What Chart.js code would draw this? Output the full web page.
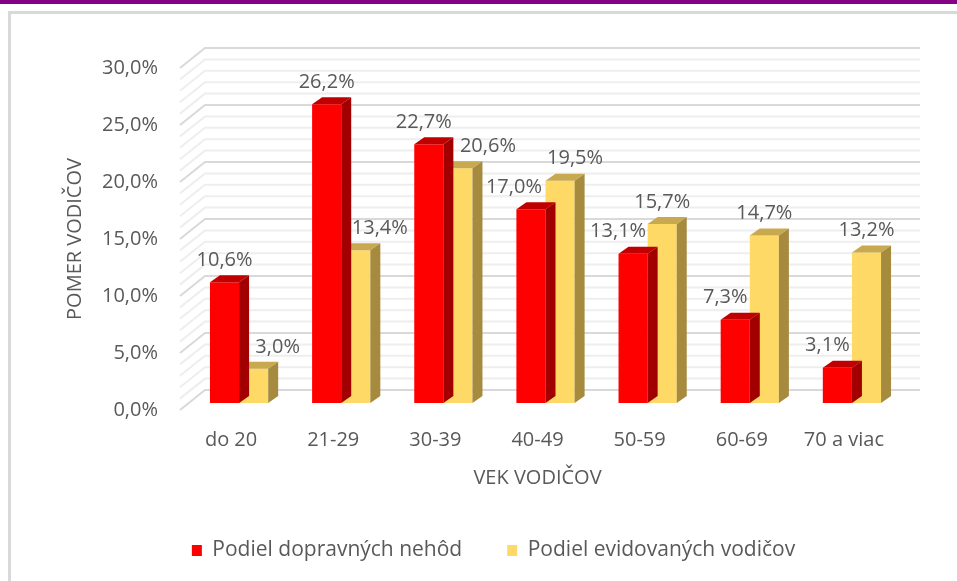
<!DOCTYPE html>
<html>
<head>
<meta charset="utf-8">
<script src="https://cdn.jsdelivr.net/npm/chart.js@4.4.1/dist/chart.umd.min.js"></script>
<style>
  body { margin: 0; background: #fff; overflow: hidden; }
  #pruh { position: absolute; left: 0; top: 0; width: 957px; height: 4px; background: #840084; }
  #ram { position: absolute; left: 8px; top: 11px; width: 1000px; height: 700px; border: 3px solid #d9d9d9; }
  #graf { position: absolute; left: 0; top: 0; }
</style>
</head>
<body>
<div id="pruh"></div>
<div id="ram"></div>
<canvas id="graf" width="957" height="581"></canvas>
<script>
// vekové skupiny vodičov
const kategorie = ['do 20', '21-29', '30-39', '40-49', '50-59', '60-69', '70 a viac']
// podiel v percentách
const nehody = [10.6, 26.2, 22.7, 17.0, 13.1, 7.3, 3.1]
const vodici = [3.0, 13.4, 20.6, 19.5, 15.7, 14.7, 13.2]
const nazvy = ['Podiel dopravných nehôd', 'Podiel evidovaných vodičov']
const yMax = 30
const yKrok = 5

// posun popiskov nad stĺpcami (aby sa neprekrývali)
const posunPopisu = [
    [0, 0, -5, -17, -15, -10, -10],
    [24, 24, 30, 15, 0, 0, 0]
]

const sivá = '#595959'
const pismo = { family: '"Open Sans", sans-serif', size: 20 }
const pismoLegenda = { family: '"Open Sans", sans-serif', size: 21 }
const farby = ['#ff0000', '#ffd966']
const farbyVrch = ['#c00000', '#c9a94f']
const farbyBok = ['#a20000', '#a68b3f']

// 3D: zadná stena, rovina stĺpcov a hĺbka stĺpca
const stena = { x: 25, y: 20 }
const rovina = { x: 8, y: 7 }
const hlbka = { x: 10, y: 7 }

const formatPct = (v) => v.toFixed(1).replace('.', ',') + '%'

const priestor = {
    id: 'priestor',
    beforeDatasetsDraw(chart) {
        const { ctx, chartArea: a, scales: { y } } = chart
        ctx.save()
        ctx.lineWidth = 2
        for (let v = 0; v <= yMax; v++) {
            const py = y.getPixelForValue(v)
            ctx.strokeStyle = v % yKrok === 0 ? '#d9d9d9' : '#eeeeee'
            ctx.beginPath()
            ctx.moveTo(a.left, py)
            ctx.lineTo(a.left + stena.x, py - stena.y)
            ctx.lineTo(a.right + stena.x, py - stena.y)
            ctx.stroke()
        }
        ctx.restore()
        // stĺpce stoja v strede hĺbky
        ctx.save()
        ctx.translate(rovina.x, -rovina.y)
    },
    afterDatasetDraw(chart, args) {
        const ctx = chart.ctx
        const i = args.index
        args.meta.data.forEach(el => {
            const l = el.x - el.width / 2
            const r = el.x + el.width / 2
            // vrch
            ctx.fillStyle = farbyVrch[i]
            ctx.beginPath()
            ctx.moveTo(l, el.y)
            ctx.lineTo(r, el.y)
            ctx.lineTo(r + hlbka.x, el.y - hlbka.y)
            ctx.lineTo(l + hlbka.x, el.y - hlbka.y)
            ctx.closePath()
            ctx.fill()
            // bok
            ctx.fillStyle = farbyBok[i]
            ctx.beginPath()
            ctx.moveTo(r, el.y)
            ctx.lineTo(r + hlbka.x, el.y - hlbka.y)
            ctx.lineTo(r + hlbka.x, el.base - hlbka.y)
            ctx.lineTo(r, el.base)
            ctx.closePath()
            ctx.fill()
        })
    },
    afterDatasetsDraw(chart) {
        const ctx = chart.ctx
        ctx.restore()
        ctx.save()
        ctx.font = pismo.size + 'px ' + pismo.family
        ctx.fillStyle = sivá
        ctx.textAlign = 'center'
        ctx.textBaseline = 'middle'
        chart.data.datasets.forEach((ds, i) => {
            chart.getDatasetMeta(i).data.forEach((el, j) => {
                ctx.fillText(formatPct(ds.data[j]), el.x + rovina.x + posunPopisu[i][j], el.y - rovina.y - 22)
            })
        })
        ctx.restore()
    }
}

let ctx = document.getElementById('graf')
let chart = new Chart(ctx, {
    type: 'bar',
    data: {
        labels: kategorie,
        datasets: [{
            label: nazvy[0],
            data: nehody,
            backgroundColor: farby[0],
            borderWidth: 0
        }, {
            label: nazvy[1],
            data: vodici,
            backgroundColor: farby[1],
            borderWidth: 0
        }]
    },
    options: {
        responsive: false,
        animation: false,
        devicePixelRatio: 1,
        datasets: { bar: { categoryPercentage: 0.57, barPercentage: 1, clip: false } },
        layout: { padding: { top: 68, left: 30, right: 0, bottom: 10 } },
        plugins: {
            legend: {
                position: 'bottom',
                labels: { boxWidth: 10, boxHeight: 11, padding: 45, color: sivá, font: pismoLegenda }
            },
            tooltip: { enabled: false }
        },
        scales: {
            x: {
                grid: { display: false, drawTicks: false },
                border: { display: false },
                ticks: { color: sivá, font: pismo, padding: 18, maxRotation: 0, autoSkip: false },
                title: { display: true, text: 'VEK VODIČOV', color: sivá, font: pismo, padding: { top: 0, bottom: 5 } },
                afterFit(s) { s.height = 85 }
            },
            y: {
                min: 0,
                max: yMax,
                grid: { display: false, drawTicks: false },
                border: { display: false },
                ticks: { stepSize: yKrok, color: sivá, font: pismo, padding: 22, callback: (v) => formatPct(v) },
                title: { display: true, text: 'POMER VODIČOV', color: sivá, font: pismo, padding: { top: 33, bottom: 0 } },
                afterFit(s) { s.width = 150 }
            },
            prazdna: {
                position: 'right',
                grid: { display: false, drawTicks: false },
                border: { display: false },
                ticks: { display: false },
                afterFit(s) { s.width = 62 }
            }
        }
    },
    plugins: [priestor]
});
</script>
</body>
</html>
